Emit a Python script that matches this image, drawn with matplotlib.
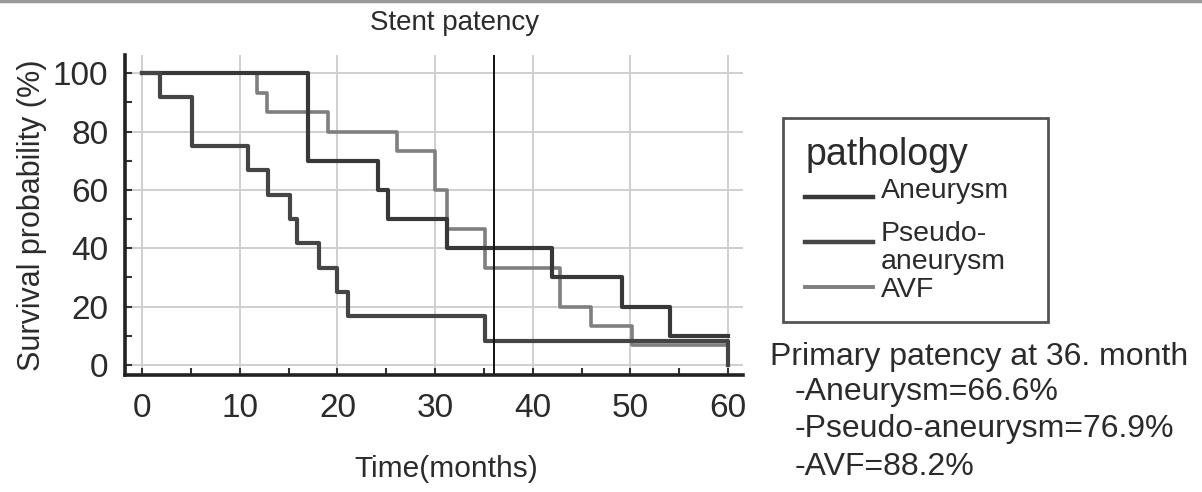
import matplotlib
matplotlib.use('agg')
import matplotlib.pyplot as plt
from matplotlib.lines import Line2D
from matplotlib.patches import Rectangle
from matplotlib import rcParams
rcParams['font.family'] = ['Liberation Sans', 'DejaVu Sans']

# Kaplan-Meier steps (months, % surviving)
aneurysm_t = [0, 17, 24.2, 25.2, 31.2, 42, 49.1, 54, 60]
aneurysm_s = [100, 70, 60, 50, 40, 30, 20, 10, 10]

pseudo_t = [0, 1.8, 5.1, 10.9, 12.9, 15.1, 15.9, 18.1, 20, 21.1, 35.1, 60, 60]
pseudo_s = [100, 91.7, 75, 66.7, 58.3, 50, 41.7, 33.3, 25, 16.7, 8.3, 8.3, 0]

avf_t = [0, 11.8, 12.8, 19, 26.1, 30, 31.2, 35.1, 42.8, 46, 50.2, 60]
avf_s = [100, 93.3, 86.7, 80, 73.3, 60, 46.7, 33.3, 20, 13.3, 6.7, 6.7]

cutoff = 36
xticks = [0, 10, 20, 30, 40, 50, 60]
yticks = [0, 20, 40, 60, 80, 100]
labels = ['Aneurysm', 'Pseudo-\naneurysm', 'AVF']
summary = ['Primary patency at 36. month', '-Aneurysm=66.6%',
           '-Pseudo-aneurysm=76.9%', '-AVF=88.2%']

c_an, c_ps, c_avf = '#383838', '#454545', '#7f7f7f'
txt = '#2b2b2b'

fig = plt.figure(figsize=(12.02, 4.92), dpi=100)
ax = fig.add_axes([0.104, 0.238, 0.514, 0.650])

ax.grid(True, color='#cfcfcf', lw=1.4)
ax.set_axisbelow(True)
ax.step(avf_t, avf_s, where='post', color=c_avf, lw=2.6)
ax.step(aneurysm_t, aneurysm_s, where='post', color=c_an, lw=3.0)
ax.step(pseudo_t, pseudo_s, where='post', color=c_ps, lw=3.0)
ax.axvline(cutoff, color='#111111', lw=1.4)

ax.set_xlim(-1.74, 61.5)
ax.set_ylim(-3.4, 106.2)
ax.set_xticks(xticks)
ax.set_yticks(yticks)
ax.set_xticks(range(5, 61, 10), minor=True)
ax.set_yticks(range(10, 101, 20), minor=True)
ax.tick_params(which='both', direction='in', length=5, width=1.5, color='#333333',
               labelsize=24, labelcolor=txt)
ax.tick_params(axis='x', pad=13)
ax.tick_params(axis='y', pad=12)
for s in ['top', 'right']:
    ax.spines[s].set_visible(False)
for s in ['left', 'bottom']:
    ax.spines[s].set_linewidth(2.6)
    ax.spines[s].set_color('#222222')

ax.set_ylabel('Survival probability (%)', fontsize=22, color=txt, labelpad=4)
ax.set_xlabel('Time(months)', fontsize=21.5, color=txt)
ax.xaxis.set_label_coords(0.5 + 12 / 618, -0.25)
fig.text(0.378, 0.953, 'Stent patency', fontsize=20, color=txt, ha='center', va='center')

# legend box drawn by hand
W, H = 1202.0, 492.0
fig.add_artist(Rectangle((783 / W, 1 - 322 / H), 265 / W, 204 / H, transform=fig.transFigure,
                         fill=False, ec='#555555', lw=2))
fig.text(806 / W, 1 - 155 / H, 'pathology', fontsize=27, color=txt, va='center')
for y, col, lw in [(197, c_an, 3.2), (242, c_ps, 3.2), (287, c_avf, 2.8)]:
    fig.add_artist(Line2D([805 / W, 873 / W], [1 - y / H, 1 - y / H], color=col, lw=lw))
fig.text(881 / W, 1 - 191 / H, labels[0], fontsize=20.5, color=txt, va='center')
fig.text(881 / W, 1 - 248 / H, labels[1], fontsize=20.5, color=txt, va='center',
         linespacing=1.1)
fig.text(881 / W, 1 - 290 / H, labels[2], fontsize=20.5, color=txt, va='center')

fig.text(770 / W, 1 - 357 / H, summary[0], fontsize=23, color=txt, va='center')
for i, line in enumerate(summary[1:]):
    fig.text(795 / W, 1 - (392 + 37.5 * i) / H, line, fontsize=23, color=txt, va='center')

fig.add_artist(Line2D([0, 1], [0.997, 0.997], color='#9a9a9a', lw=2.5))

fig.savefig('out.png', dpi=100)
